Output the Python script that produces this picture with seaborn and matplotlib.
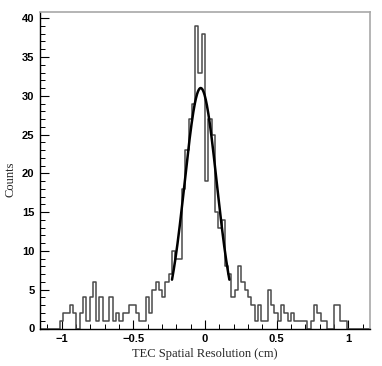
import numpy as np
import pandas as pd
import matplotlib
matplotlib.use("Agg")
import matplotlib.pyplot as plt
import seaborn as sns
from matplotlib.ticker import MultipleLocator

# histogram range and bin contents (100 bins)
x_lo, x_hi, n_bins = -1.15, 1.15, 100
counts = [
    0, 0, 0, 0, 0, 0, 1, 2, 2, 3,
    2, 0, 2, 4, 1, 4, 6, 1, 4, 1,
    1, 4, 1, 2, 1, 2, 2, 3, 3, 2,
    1, 1, 4, 2, 5, 6, 5, 4, 6, 7,
    10, 9, 9, 18, 23, 27, 29, 39, 33, 38,
    19, 27, 25, 15, 13, 14, 8, 7, 4, 5,
    8, 6, 5, 4, 3, 1, 3, 1, 1, 5,
    3, 2, 1, 3, 2, 1, 2, 1, 1, 1,
    1, 0, 1, 3, 2, 1, 1, 0, 0, 3,
    3, 1, 1, 0, 0, 0, 0, 0, 0, 0,
]

# gaussian fit parameters and fit window
fit_amp, fit_mean, fit_sigma = 31.0, -0.03, 0.112
fit_lo, fit_hi = -0.23, 0.17

x_ticks = [-1, -0.5, 0, 0.5, 1]
x_ticklabels = ["\u22121", "\u22120.5", "0", "0.5", "1"]
y_ticks = [0, 5, 10, 15, 20, 25, 30, 35, 40]

sns.set_style("white")

edges = np.linspace(x_lo, x_hi, n_bins + 1)
df = pd.DataFrame({"x": 0.5 * (edges[:-1] + edges[1:]), "n": counts})

fig = plt.figure(figsize=(3.82, 3.66), dpi=100)
ax = fig.add_axes([40 / 382, 37.5 / 366, 330 / 382, 316.5 / 366])

sns.histplot(data=df, x="x", weights="n", bins=n_bins, binrange=(x_lo, x_hi),
             element="step", fill=False, color="#4a4a4a", linewidth=1.1, ax=ax)

xf = np.linspace(fit_lo, fit_hi, 200)
yf = fit_amp * np.exp(-0.5 * ((xf - fit_mean) / fit_sigma) ** 2)
sns.lineplot(x=xf, y=yf, color="black", linewidth=1.8, ax=ax)

ax.set_xlim(x_lo, x_hi)
ax.set_ylim(0, 40.8)

ax.set_xticks(x_ticks)
ax.set_xticklabels(x_ticklabels)
ax.set_yticks(y_ticks)
ax.xaxis.set_minor_locator(MultipleLocator(0.1))
ax.yaxis.set_minor_locator(MultipleLocator(1))
ax.tick_params(which="both", direction="in", top=False, right=False,
               bottom=True, left=True, colors="black")
ax.tick_params(which="major", length=6.5, width=0.8, pad=4, labelsize=8)
ax.tick_params(which="minor", length=3.5, width=0.7)
for lab in ax.get_xticklabels() + ax.get_yticklabels():
    lab.set_fontfamily(["Liberation Sans", "DejaVu Sans"])
    lab.set_fontweight("bold")

for side in ["top", "right"]:
    ax.spines[side].set_color("#a8a8a8")
    ax.spines[side].set_linewidth(1.2)
for side in ["left", "bottom"]:
    ax.spines[side].set_color("black")
    ax.spines[side].set_linewidth(1.0)

ax.set_xlabel("TEC Spatial Resolution (cm)", fontsize=9,
              fontfamily=["Liberation Serif", "DejaVu Serif"], labelpad=3)
ax.set_ylabel("Counts", fontsize=9,
              fontfamily=["Liberation Serif", "DejaVu Serif"])
ax.yaxis.set_label_coords(-0.07, 0.47)

fig.savefig("out.png", dpi=100)
